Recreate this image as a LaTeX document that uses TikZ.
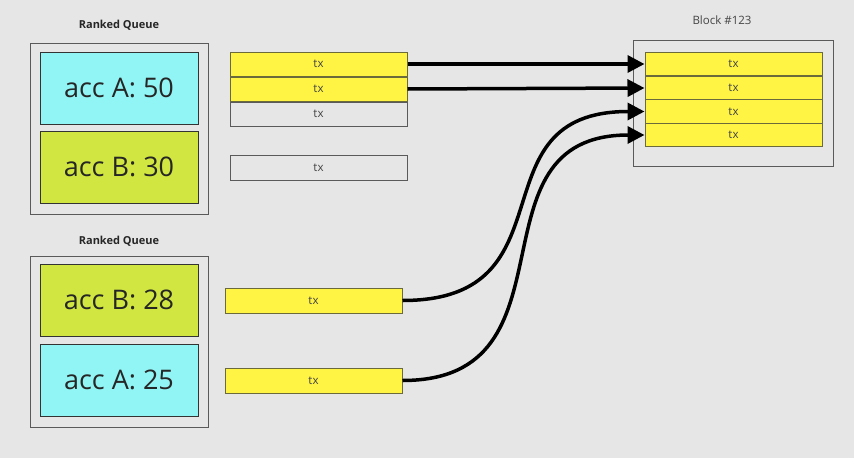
\documentclass[tikz,border=0pt]{standalone}
\usepackage{fontspec}
\setmainfont{Open Sans}
\usetikzlibrary{positioning}
\usetikzlibrary{arrows.meta,calc}

\definecolor{bgcol}{HTML}{E6E6E6}
\definecolor{acccyan}{HTML}{92F5F5}
\definecolor{acclime}{HTML}{D1E640}
\definecolor{txyellow}{HTML}{FFF444}
\definecolor{txedge}{HTML}{6B6A3A}
\definecolor{boxedge}{HTML}{5A5A5A}
\definecolor{txtgrey}{HTML}{444444}

\tikzset{
  queuebox/.style={draw=boxedge, line width=1pt, minimum width=178pt, minimum height=171pt, inner sep=0pt},
  accbox/.style={draw=black!80, line width=1pt, minimum width=158pt, minimum height=72pt, inner sep=0pt, text=black!85, font=\fontsize{27}{31}\selectfont},
  txbox/.style={draw=boxedge, line width=1pt, minimum width=177pt, minimum height=24pt, inner sep=0pt, text=txtgrey, font=\fontsize{11.5}{13}\selectfont},
  txfull/.style={txbox, draw=txedge, fill=txyellow},
  title/.style={text=black!85, font=\bfseries\fontsize{11}{13}\selectfont},
  moves/.style={-{Triangle[length=17pt,width=17pt]}, line width=3.5pt}
}

\begin{document}
\begin{tikzpicture}[x=1pt, y=-1pt]

	\useasboundingbox[fill=bgcol] (0,0) rectangle (854,458);

	% ranked queues
	\node[queuebox] (q1) at (119,128.5) {};
	\node[title] (q1t) at (119,25) {Ranked Queue};
	\node[accbox, fill=acccyan] (q1a) at (119,88) {acc A: 50};
	\node[accbox, fill=acclime] (q1b) at (119,167) {acc B: 30};

	\node[queuebox] (q2) at (119,341.5) {};
	\node[title] (q2t) at (119,241) {Ranked Queue};
	\node[accbox, fill=acclime] (q2b) at (119,300) {acc B: 28};
	\node[accbox, fill=acccyan] (q2a) at (119,380) {acc A: 25};

	% pending txs
	\node[txfull] (ta1) at (318.5,64) {tx};
	\node[txfull, below=0pt of ta1] (ta2) {tx};
	\node[txbox, below=0pt of ta2] (ta3) {tx};
	\node[txbox, minimum height=25pt] (tb1) at (318.5,167.5) {tx};

	\node[txfull, minimum height=25pt] (tc1) at (313.5,300.5) {tx};
	\node[txfull, minimum height=25pt] (td1) at (313.5,380.5) {tx};

	% block
	\draw[boxedge, line width=1pt] (633,40) rectangle (833,166);
	\node[text=txtgrey, font=\fontsize{11.5}{13}\selectfont] (blkt) at (722,20) {Block \#123};
	\foreach \i/\y in {1/64, 2/88, 3/111.5, 4/135} {
		\node[txfull, minimum height=23.5pt] (bk\i) at (733.5,\y) {tx};
	}

	\draw[moves] (ta1.east) -- (bk1.west);
	\draw[moves] (ta2.east) -- (bk2.west);
	\draw[moves] (tc1.east) to[out=0, in=180, looseness=1.45] (bk3.west);
	\draw[moves] (td1.east) to[out=0, in=180, looseness=1.35] (bk4.west);

\end{tikzpicture}
\end{document}
